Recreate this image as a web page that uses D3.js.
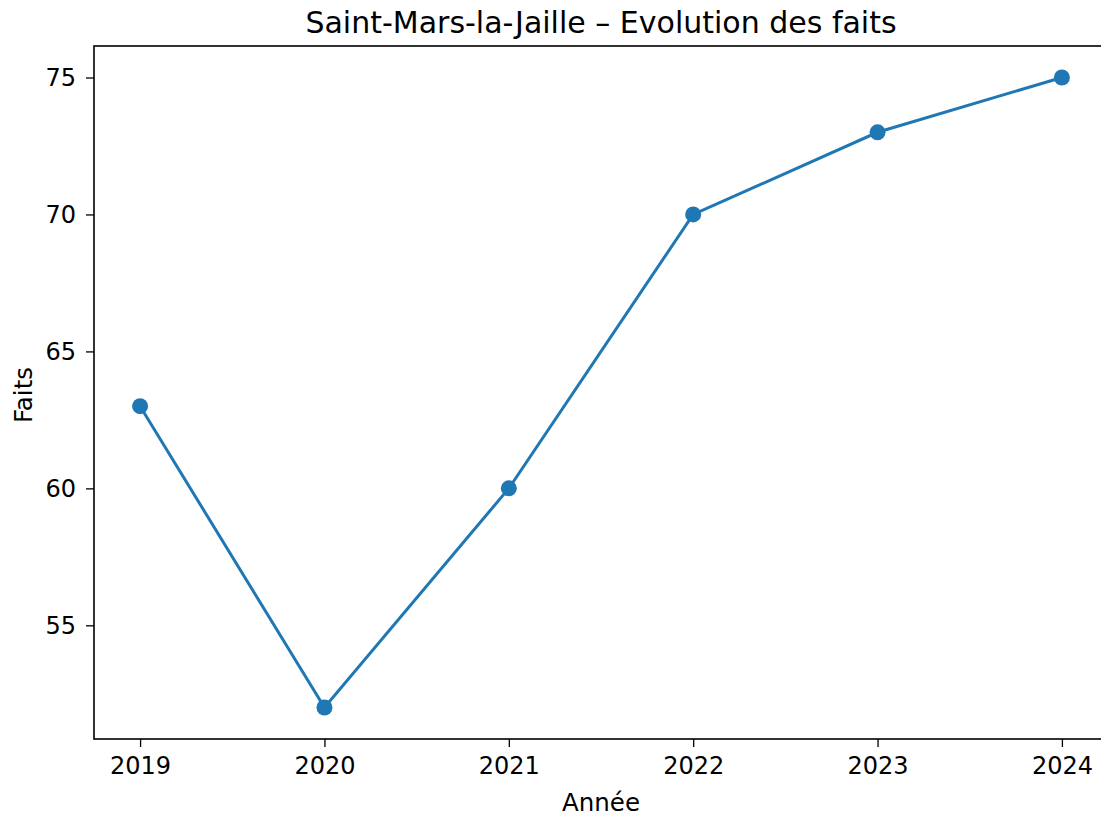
<!DOCTYPE html>
<html>
<head>
<meta charset="utf-8">
<script src="https://cdn.jsdelivr.net/npm/d3@7"></script>
<style>
  body { margin: 0; background: #fff; }
  svg { display: block; font-family: "DejaVu Sans", sans-serif; }
</style>
</head>
<body>
<svg id="chart" width="1101" height="820"></svg>
<script>
var years = [2019, 2020, 2021, 2022, 2023, 2024];
var faits = [63, 52, 60, 70, 73, 75];
var yTicks = [55, 60, 65, 70, 75];
var title = "Saint-Mars-la-Jaille \u2013 Evolution des faits";

var svg = d3.select("#chart");
var mLeft = 94, mRight = 1108, mTop = 46, mBottom = 739;

// matplotlib-style 5% margins
var x = d3.scaleLinear().domain([2018.75, 2024.25]).range([mLeft, mRight]);
var y = d3.scaleLinear().domain([50.85, 76.15]).range([mBottom, mTop]);

var xAxis = svg.append("g")
  .attr("transform", "translate(0," + mBottom + ")")
  .call(d3.axisBottom(x).tickValues(years).tickFormat(d3.format("d")).tickSizeOuter(0).tickSize(8).tickPadding(10));
var yAxis = svg.append("g")
  .attr("transform", "translate(" + mLeft + ",0)")
  .call(d3.axisLeft(y).tickValues(yTicks).tickSizeOuter(0).tickSize(8).tickPadding(10));

[xAxis, yAxis].forEach(function(a) {
  a.select(".domain").remove();
  a.selectAll("line").attr("stroke", "#000").attr("stroke-width", 1.3);
  a.selectAll("text").attr("fill", "#000").style("font-size", "24px").style("font-family", "DejaVu Sans");
});

// frame
svg.append("rect")
  .attr("x", mLeft).attr("y", mTop)
  .attr("width", mRight - mLeft).attr("height", mBottom - mTop)
  .attr("fill", "none").attr("stroke", "#000").attr("stroke-width", 1.6);

var pts = years.map(function(d, i) { return { year: d, v: faits[i] }; });

svg.append("path")
  .datum(pts)
  .attr("fill", "none")
  .attr("stroke", "#1f77b4")
  .attr("stroke-width", 3)
  .attr("d", d3.line().x(function(d) { return x(d.year); }).y(function(d) { return y(d.v); }));

svg.selectAll(".dot")
  .data(pts)
  .enter()
  .append("circle")
  .attr("class", "dot")
  .attr("cx", function(d) { return x(d.year); })
  .attr("cy", function(d) { return y(d.v); })
  .attr("r", 8)
  .attr("fill", "#1f77b4");

svg.append("text")
  .attr("x", (mLeft + mRight) / 2)
  .attr("y", 33)
  .attr("text-anchor", "middle")
  .style("font-size", "30px")
  .text(title);

svg.append("text")
  .attr("x", (mLeft + mRight) / 2)
  .attr("y", 811)
  .attr("text-anchor", "middle")
  .style("font-size", "24.5px")
  .text("Année");

svg.append("text")
  .attr("transform", "translate(32,395) rotate(-90)")
  .attr("text-anchor", "middle")
  .style("font-size", "24.5px")
  .text("Faits");
</script>
</body>
</html>
